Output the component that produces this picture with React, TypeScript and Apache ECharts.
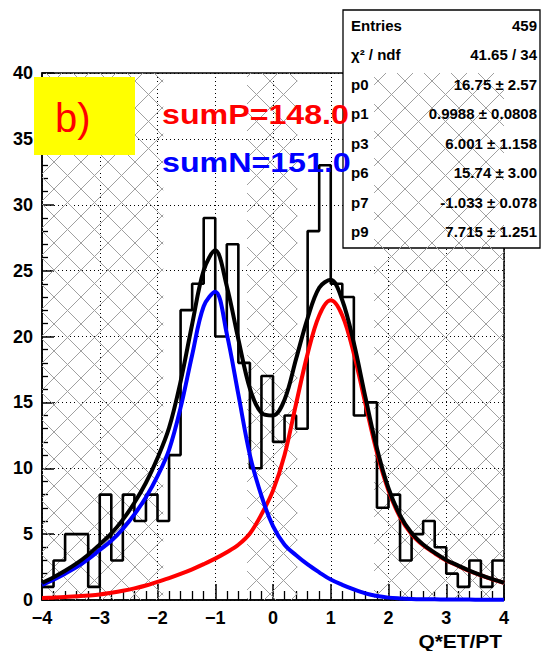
import React, { useEffect, useRef } from "react";
import * as echarts from "echarts";

// Histogram: 40 bins of width 0.2 from -4 to 4
const binLow = -4;
const binWidth = 0.2;
const counts = [1, 3, 5, 5, 1, 8, 3, 8, 6, 8, 6, 11, 22, 24, 29, 20, 27, 18, 10, 17, 12, 14, 13, 28, 33, 24, 23, 14, 15, 7, 8, 3, 5, 6, 4, 2, 1, 3, 1, 3];

const curveX = [-4.0, -3.8, -3.6, -3.4, -3.2, -3.0, -2.8, -2.6, -2.4, -2.2, -2.0, -1.8, -1.6, -1.4, -1.2, -1.0, -0.8, -0.6, -0.4, -0.2, 0.0, 0.2, 0.4, 0.6, 0.8, 1.0, 1.2, 1.4, 1.6, 1.8, 2.0, 2.2, 2.4, 2.6, 2.8, 3.0, 3.2, 3.4, 3.6, 3.8, 4.0];
const fitPos = [0.15, 0.18, 0.22, 0.28, 0.34, 0.42, 0.55, 0.7, 0.88, 1.1, 1.38, 1.66, 1.98, 2.33, 2.72, 3.14, 3.62, 4.19, 5.05, 6.5, 8.3, 11.0, 14.9, 18.7, 21.6, 22.75, 21.6, 18.7, 14.9, 11.2, 8.3, 6.3, 5.0, 4.15, 3.55, 3.0, 2.6, 2.2, 1.87, 1.57, 1.3];
const fitNeg = [1.15, 1.55, 2.0, 2.5, 3.1, 3.8, 4.5, 5.4, 6.5, 7.8, 9.4, 11.4, 14.6, 18.6, 22.3, 23.4, 20.2, 15.6, 11.0, 7.9, 5.6, 4.2, 3.4, 2.7, 2.1, 1.55, 1.15, 0.8, 0.5, 0.3, 0.18, 0.12, 0.08, 0.06, 0.05, 0.04, 0.03, 0.03, 0.02, 0.02, 0.01];
const fitSum = [1.3, 1.73, 2.22, 2.78, 3.44, 4.22, 5.05, 6.1, 7.38, 8.9, 10.78, 13.06, 16.58, 20.93, 25.02, 26.54, 23.82, 19.79, 16.05, 14.2, 14.0, 15.2, 18.3, 21.4, 23.7, 24.3, 22.75, 19.5, 15.4, 11.5, 8.48, 6.42, 5.08, 4.21, 3.6, 3.04, 2.63, 2.23, 1.89, 1.59, 1.31];

// Hatched x-ranges
const hatchRegions = [
  [-4, -1.9],
  [-0.45, 0.42],
  [1.75, 4],
];

// Stats box
const statLabels = ["Entries", "\u03c7\u00b2 / ndf", "p0", "p1", "p3", "p6", "p7", "p9"];
const statValues = ["459", "41.65 / 34", "16.75 \u00b1 2.57", "0.9988 \u00b1 0.0808", "6.001 \u00b1 1.158", "15.74 \u00b1 3.00", "-1.033 \u00b1 0.078", "7.715 \u00b1 1.251"];

const sumPText = "sumP=148.0";
const sumNText = "sumN=151.0";
const panelText = "b)";
const xTitle = "Q*ET/PT";

const FONT = '"Liberation Sans", Arial, Helvetica, sans-serif';

export default function App() {
  const ref = useRef<HTMLDivElement>(null);

  useEffect(() => {
    if (!ref.current) return;
    const chart = echarts.init(ref.current, undefined, { renderer: "svg" });

    const histData: number[][] = [];
    for (let i = 0; i <= counts.length; i++) {
      const edge = +(binLow + i * binWidth).toFixed(2);
      histData.push([edge, counts[Math.min(i, counts.length - 1)]]);
    }

    const curve = (vals: number[]) => curveX.map((x, i) => [x, vals[i]]);

    const hatchColor = "#a0a0a0";
    const S = 27;

    const graphic: any[] = [];
    // stats box
    graphic.push({
      type: "rect",
      z: 1,
      shape: { x: 343, y: 10, width: 197, height: 238 },
      style: { fill: "#fff", stroke: "#000", lineWidth: 1.3 },
    });
    statLabels.forEach((lab, i) => {
      const y = 25 + i * 29.5;
      graphic.push({
        type: "text",
        z: 3,
        x: 351,
        y,
        style: { text: lab, fill: "#000", font: `bold 15px ${FONT}`, textAlign: "left", align: "left", textVerticalAlign: "middle", verticalAlign: "middle" },
      });
      graphic.push({
        type: "text",
        z: 3,
        x: 537,
        y,
        style: { text: statValues[i], fill: "#000", font: `bold 15px ${FONT}`, textAlign: "right", align: "right", textVerticalAlign: "middle", verticalAlign: "middle" },
      });
    });
    // yellow panel label
    graphic.push({
      type: "rect",
      z: 6,
      shape: { x: 34, y: 77, width: 101, height: 78 },
      style: { fill: "#ffff00", stroke: "none" },
    });
    graphic.push({
      type: "text",
      z: 7,
      x: 55,
      y: 118,
      style: { text: panelText, fill: "#ff0000", font: `40px ${FONT}`, textAlign: "left", align: "left", textVerticalAlign: "middle", verticalAlign: "middle" },
    });
    graphic.push({
      type: "text",
      z: 7,
      x: 162,
      y: 114,
      scaleX: 1.15,
      style: { text: sumPText, fill: "#ff0000", font: `bold 28px ${FONT}`, textAlign: "left", align: "left", textVerticalAlign: "middle", verticalAlign: "middle" },
    });
    graphic.push({
      type: "text",
      z: 7,
      x: 162,
      y: 162,
      scaleX: 1.15,
      style: { text: sumNText, fill: "#0000ff", font: `bold 28px ${FONT}`, textAlign: "left", align: "left", textVerticalAlign: "middle", verticalAlign: "middle" },
    });
    graphic.push({
      type: "text",
      z: 7,
      x: 502,
      y: 641,
      scaleX: 1.1,
      style: { text: xTitle, fill: "#000", font: `bold 19px ${FONT}`, textAlign: "right", align: "right", textVerticalAlign: "middle", verticalAlign: "middle" },
    });

    const fmtX = (v: number) => (v < 0 ? "\u2212" + Math.abs(v) : String(v));

    chart.setOption({
      animation: false,
      backgroundColor: "#fff",
      grid: { left: 42, top: 73, width: 462, height: 527, show: true, borderColor: "#000", borderWidth: 1.5, backgroundColor: "transparent" },
      xAxis: {
        type: "value",
        min: -4,
        max: 4,
        interval: 1,
        axisLine: { show: true, onZero: false, lineStyle: { color: "#000", width: 1.5 } },
        axisTick: { show: true, inside: true, length: 16, lineStyle: { color: "#000", width: 1.5 } },
        minorTick: { show: true, splitNumber: 5, length: 9, lineStyle: { color: "#000", width: 1.3 } },
        splitLine: { show: true, lineStyle: { color: "#000", width: 1, type: [1, 3] } },
        axisLabel: { formatter: fmtX, fontSize: 18, fontWeight: "bold", fontFamily: FONT, color: "#000", margin: 9 },
      },
      yAxis: {
        type: "value",
        min: 0,
        max: 40,
        interval: 5,
        axisLine: { show: true, onZero: false, lineStyle: { color: "#000", width: 1.5 } },
        axisTick: { show: true, inside: true, length: 12, lineStyle: { color: "#000", width: 1.5 } },
        minorTick: { show: true, splitNumber: 5, length: 6, lineStyle: { color: "#000", width: 1.3 } },
        splitLine: { show: true, lineStyle: { color: "#000", width: 1, type: [1, 3] } },
        axisLabel: { fontSize: 18, fontWeight: "bold", fontFamily: FONT, color: "#000", margin: 9 },
      },
      graphic,
      series: [
        {
          type: "custom",
          z: 2,
          silent: true,
          data: hatchRegions.map((r) => [r[0], r[1], 0]),
          encode: { x: [0, 1], y: 2 },
          renderItem: (_params: any, api: any) => {
            const x0 = api.value(0);
            const x1 = api.value(1);
            const tl = api.coord([x0, 40]);
            const br = api.coord([x1, 0]);
            const L = tl[0], T = tl[1], R = br[0], B = br[1];
            const children: any[] = [];
            const st = { stroke: hatchColor, lineWidth: 1 };
            for (let c = Math.ceil((L + T) / S) * S; c <= R + B; c += S) {
              const xa = Math.max(L, c - B);
              const xb = Math.min(R, c - T);
              if (xb > xa) children.push({ type: "line", shape: { x1: xa, y1: c - xa, x2: xb, y2: c - xb }, style: st });
            }
            for (let c = Math.ceil((L - B) / S) * S; c <= R - T; c += S) {
              const xa = Math.max(L, c + T);
              const xb = Math.min(R, c + B);
              if (xb > xa) children.push({ type: "line", shape: { x1: xa, y1: xa - c, x2: xb, y2: xb - c }, style: st });
            }
            return { type: "group", children };
          },
        },
        {
          type: "line",
          z: 4,
          step: "end",
          data: histData,
          symbol: "none",
          lineStyle: { color: "#000", width: 2.6 },
          silent: true,
        },
        {
          type: "line",
          z: 5,
          data: curve(fitPos),
          smooth: 0.35,
          symbol: "none",
          lineStyle: { color: "#ff0000", width: 4 },
          silent: true,
        },
        {
          type: "line",
          z: 5,
          data: curve(fitNeg),
          smooth: 0.35,
          symbol: "none",
          lineStyle: { color: "#0000ff", width: 4 },
          silent: true,
        },
        {
          type: "line",
          z: 5,
          data: curve(fitSum),
          smooth: 0.35,
          symbol: "none",
          lineStyle: { color: "#000", width: 4 },
          silent: true,
        },
      ],
    });

    return () => chart.dispose();
  }, []);

  return <div ref={ref} style={{ position: "fixed", left: 0, top: 0, width: 542, height: 651, background: "#fff" }} />;
}
